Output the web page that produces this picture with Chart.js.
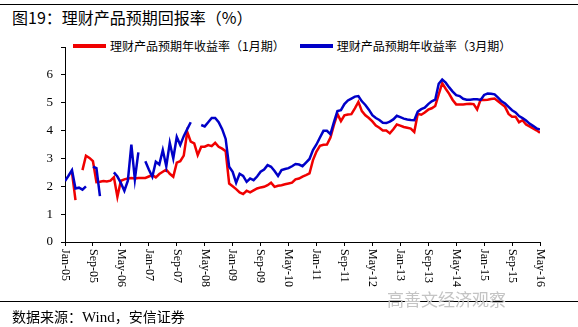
<!DOCTYPE html>
<html>
<head>
<meta charset="utf-8">
<script src="https://cdn.jsdelivr.net/npm/chart.js@4.4.1/dist/chart.umd.min.js"></script>
<style>
  body { margin: 0; width: 578px; height: 327px; background: #fff; position: relative; overflow: hidden;
         font-family: "Noto Sans CJK SC", sans-serif; color: #000; }
  canvas { position: absolute; left: 0; top: 0; }
  .rule { position: absolute; left: 0; width: 578px; height: 1px; background: #000; }
  #title { position: absolute; left: 12px; top: 7px; font-size: 16px; line-height: 20px; white-space: nowrap; }
  #source { position: absolute; left: 12px; top: 307px; font-size: 14px; line-height: 18px; white-space: nowrap; }
  #source .latin { font-family: "Liberation Serif", serif; font-size: 15px; }
  #mark { position: absolute; left: 387px; top: 289px; font-size: 17px; line-height: 20px; color: #c4c4c4; white-space: nowrap; }
  #legend { position: absolute; left: 73px; top: 38px; font-size: 12px; line-height: 16px; display: flex; align-items: center; white-space: nowrap; }
  #legend .item { display: flex; align-items: center; margin-right: 15px; }
  #legend .swatch { width: 33px; height: 4px; margin-right: 4px; }
</style>
</head>
<body>
<div class="rule" style="top:4px"></div>
<div id="title">图19：理财产品预期回报率（%）</div>
<div id="legend"></div>
<canvas id="myChart" width="578" height="327"></canvas>
<div class="rule" style="top:301px"></div>
<div id="mark">高善文经济观察</div>
<div id="source">数据来源：<span class="latin">Wind</span>，安信证券</div>

<script>
// monthly data, index 0 = Jan-05, last = May-16
const tickLabels = ['Jan-05', 'Sep-05', 'May-06', 'Jan-07', 'Sep-07', 'May-08', 'Jan-09', 'Sep-09', 'May-10',
  'Jan-11', 'Sep-11', 'May-12', 'Jan-13', 'Sep-13', 'May-14', 'Jan-15', 'Sep-15', 'May-16'];
const monthsPerTick = 8;
const seriesNames = ['理财产品预期年收益率（1月期）', '理财产品预期年收益率（3月期）'];
const seriesColors = ['#f00000', '#0000c8'];

const rate1m = [
  null, null, 2.5, 1.5, null, 2.58, 3.1, 3.02, 2.9, 2.15,
  2.16, 2.19, 2.17, 2.2, 2.32, 1.62, 2.2, 2.25, 2.28, 2.3,
  2.28, 2.3, 2.3, 2.3, 2.35, 2.4, 2.32, 2.44, 2.52, 2.6,
  2.45, 2.34, 2.85, 2.9, 3.1, 3.95, 3.6, 3.54, 3.12, 3.42,
  3.42, 3.48, 3.44, 3.56, 3.42, 3.35, 3.26, 2.1, 2.0, 1.9,
  1.78, 1.72, 1.84, 1.78, 1.85, 1.92, 1.96, 1.98, 2.04, 2.13,
  1.98, 2.02, 2.04, 2.07, 2.1, 2.13, 2.25, 2.28, 2.35, 2.4,
  2.46, 2.94, 3.25, 3.45, 3.49, 3.5, 3.75, 4.2, 4.6, 4.34,
  4.55, 4.58, 4.59, 4.8, 5.03, 4.7, 4.55, 4.45, 4.33, 4.18,
  4.1, 4.0, 4.0, 3.9, 4.05, 4.22, 4.18, 4.13, 4.1, 4.07,
  3.95, 4.6, 4.57, 4.65, 4.75, 4.8, 4.88, 5.3, 5.7, 5.5,
  5.32, 5.1, 4.94, 4.94, 4.94, 4.95, 4.96, 4.95, 4.76, 5.11,
  5.1, 5.11, 5.13, 5.15, 5.05, 4.95, 4.85, 4.6, 4.5, 4.5,
  4.3, 4.37, 4.22, 4.15, 4.08, 4.01, 3.92
];

const rate3m = [
  2.19, 2.38, 2.58, 1.92, 1.95, 1.88, 2.0, null, 2.7, 2.65,
  1.65, null, null, null, 2.5, 2.35, 2.12, 1.84, 2.2, 3.5,
  2.25, 3.22, null, 2.9, 2.6, 2.34, 2.88, 2.78, 3.3, 2.72,
  3.56, 3.0, 3.77, 3.48, 3.8, 4.05, 4.3, null, null, 4.2,
  4.15, 4.3, 4.45, 4.45, 4.3, 4.05, 3.7, 2.7, 2.52, 2.13,
  2.45, 2.37, 2.16, 2.28, 2.22, 2.35, 2.52, 2.6, 2.76, 2.7,
  2.55, 2.37, 2.58, 2.62, 2.65, 2.72, 2.8, 2.78, 2.72, 2.85,
  2.98, 3.3, 3.5, 3.75, 3.99, 3.99, 3.87, 4.3, 4.7, 4.73,
  4.95, 5.08, 5.15, 5.22, 5.24, 5.05, 4.92, 4.75, 4.55, 4.45,
  4.38, 4.28, 4.27, 4.32, 4.4, 4.53, 4.48, 4.43, 4.4, 4.38,
  4.37, 4.68, 4.77, 4.82, 4.95, 5.05, 5.11, 5.68, 5.83, 5.72,
  5.55, 5.4, 5.27, 5.24, 5.14, 5.11, 5.11, 5.12, 5.12, 5.1,
  5.28, 5.33, 5.32, 5.3, 5.18, 5.05, 4.97, 4.85, 4.73, 4.65,
  4.52, 4.45, 4.36, 4.25, 4.17, 4.08, 4.04
];

const axisFont = '"Liberation Serif", "Times New Roman", serif';

// legend (the excel legend box sits on top of the axis, so it is drawn outside the canvas)
const legend = document.getElementById('legend');
seriesNames.forEach((name, i) => {
  const item = document.createElement('div');
  item.className = 'item';
  item.innerHTML = '<span class="swatch" style="background:' + seriesColors[i] + '"></span>' + name;
  legend.appendChild(item);
});

// x tick labels read top to bottom, like the excel chart
const xLabels = {
  id: 'xLabels',
  afterDraw(chart) {
    const sx = chart.scales.x;
    const ctx = chart.ctx;
    ctx.save();
    ctx.font = '12px ' + axisFont;
    ctx.fillStyle = '#000';
    ctx.textAlign = 'left';
    ctx.textBaseline = 'middle';
    sx.ticks.forEach(t => {
      ctx.save();
      ctx.translate(sx.getPixelForValue(t.value), sx.top + 7);
      ctx.rotate(Math.PI / 2);
      ctx.fillText(tickLabels[t.value / monthsPerTick], 0, 0);
      ctx.restore();
    });
    ctx.restore();
  }
};

const axisLine = { display: true, color: '#000', width: 1 };
const tickMarks = { display: true, drawOnChartArea: false, drawTicks: true, tickLength: 4, color: '#000', lineWidth: 1 };

const ctx = document.getElementById('myChart').getContext('2d');
new Chart(ctx, {
  type: 'line',
  data: {
    datasets: [
      {
        label: seriesNames[0],
        data: rate1m.map((v, i) => ({ x: i, y: v })),
        borderColor: seriesColors[0],
        borderWidth: 2.5,
        order: 1
      },
      {
        label: seriesNames[1],
        data: rate3m.map((v, i) => ({ x: i, y: v })),
        borderColor: seriesColors[1],
        borderWidth: 2.5,
        order: 0
      }
    ]
  },
  options: {
    responsive: false,
    animation: false,
    events: [],
    spanGaps: false,
    elements: { point: { radius: 0 }, line: { tension: 0 } },
    layout: { padding: { top: 47, right: 38, left: 0, bottom: 0 } },
    plugins: { legend: { display: false }, tooltip: { enabled: false } },
    scales: {
      x: {
        type: 'linear',
        min: 0,
        max: (tickLabels.length - 1) * monthsPerTick,
        ticks: { stepSize: monthsPerTick, display: false },
        grid: tickMarks,
        border: axisLine,
        afterFit: s => { s.height = 85; }
      },
      y: {
        min: 0,
        max: 7,
        ticks: {
          stepSize: 1,
          padding: 8,
          color: '#000',
          font: { family: axisFont, size: 13 },
          callback: v => (v === 7 ? '' : v)
        },
        grid: tickMarks,
        border: axisLine,
        afterFit: s => { s.width = 65; }
      }
    }
  },
  plugins: [xLabels]
});
</script>
</body>
</html>
